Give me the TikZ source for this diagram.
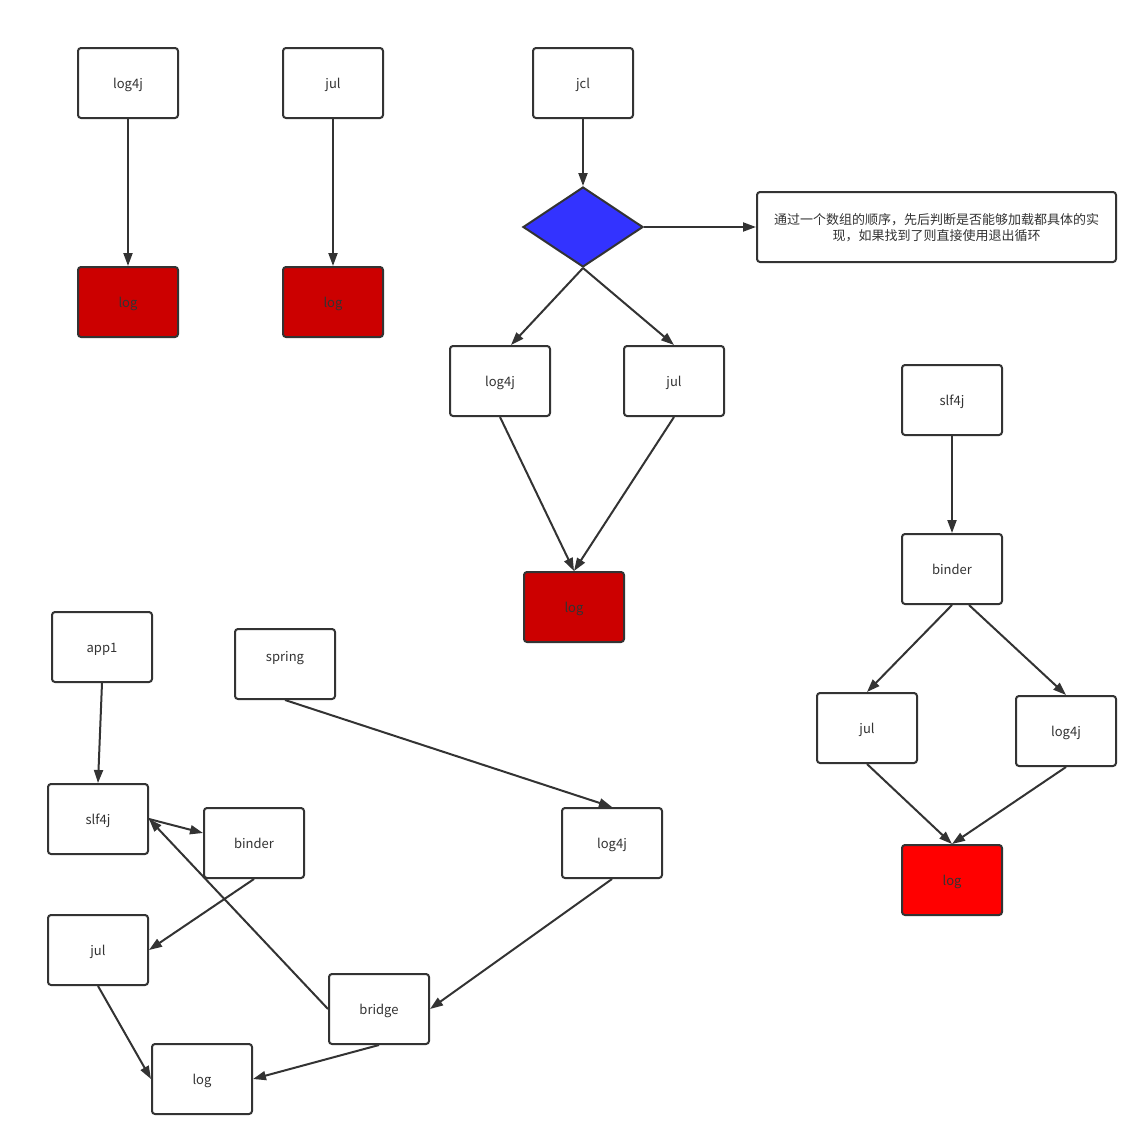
\documentclass[tikz,border=0pt]{standalone}
\usepackage{fontspec}
\setmainfont{Noto Sans CJK SC}
\usepackage{tikz}
\usetikzlibrary{shapes.geometric}
\usetikzlibrary{arrows.meta}
\definecolor{edge}{HTML}{333333}
\definecolor{darkred}{HTML}{CC0000}
\definecolor{brightred}{HTML}{FF0000}
\definecolor{choice}{HTML}{3333FF}

\begin{document}
\begin{tikzpicture}[x=1pt, y=-1pt,
  box/.style={draw=edge, line width=2pt, rounded corners=3pt, fill=white, text=edge,
    minimum width=100pt, minimum height=70pt, inner sep=0pt,
    text height=13pt, text depth=3pt,
    font=\fontsize{13}{16}\selectfont},
  logbox/.style={box, fill=darkred},
  flow/.style={draw=edge, line width=2pt, -{Triangle[length=13pt, width=9pt]}}]
\useasboundingbox (0,0) rectangle (1148,1146);
% jdk logging, one implementation each
\node[box] (log4ja) at (128,83) {log4j};
\node[logbox] (loga) at (128,302) {log};
\node[box] (jula) at (333,83) {jul};
\node[logbox] (logb) at (333,302) {log};
\draw[flow] (log4ja.south) -- (loga.north);
\draw[flow] (jula.south) -- (logb.north);
% jcl
\node[box] (jcl) at (583,83) {jcl};
\node[diamond, draw=edge, line width=2pt, fill=choice, minimum width=120pt, minimum height=80pt,
  inner sep=0pt, aspect=1.5] (pick) at (583,227) {};
\node[box, minimum width=359pt, align=center, text height=, text depth=] (note) at (936.5,227)
  {\rule{0pt}{13pt}通过一个数组的顺序，先后判断是否能够加载都具体的实\\现，如果找到了则直接使用退出循环};
\node[box] (log4jc) at (500,381) {log4j};
\node[box] (julc) at (674,381) {jul};
\node[logbox] (logc) at (574,607) {log};
\draw[flow] (jcl.south) -- (pick.north);
\draw[flow] (pick.east) -- (note.west);
\draw[flow] (pick.south) -- ([xshift=11pt]log4jc.north);
\draw[flow] (pick.south) -- (julc.north);
\draw[flow] (log4jc.south) -- (logc.north);
\draw[flow] (julc.south) -- (logc.north);
% slf4j
\node[box] (slf4jr) at (952,400) {slf4j};
\node[box] (binderr) at (952,569) {binder};
\node[box] (julr) at (867,728) {jul};
\node[box] (log4jr) at (1066,731) {log4j};
\node[box, fill=brightred] (logr) at (952,880) {log};
\draw[flow] (slf4jr.south) -- (binderr.north);
\draw[flow] (binderr.south) -- (julr.north);
\draw[flow] ([xshift=17pt]binderr.south) -- (log4jr.north);
\draw[flow] (julr.south) -- (logr.north);
\draw[flow] (log4jr.south) -- (logr.north);
% bridge
\node[box] (app) at (102,647) {app1};
\node[box, label={[yshift=6pt, text=edge, font=\fontsize{13}{16}\selectfont]center:spring}] (spring) at (285,664) {};
\node[box] (slf4jl) at (98,819) {slf4j};
\node[box] (binderl) at (254,843) {binder};
\node[box] (log4jl) at (612,843) {log4j};
\node[box] (jull) at (98,950) {jul};
\node[box] (bridge) at (379,1009) {bridge};
\node[box] (logl) at (202,1079) {log};
\draw[flow] (app.south) -- (slf4jl.north);
\draw[flow] (slf4jl.east) -- ([yshift=10pt]binderl.west);
\draw[flow] (bridge.west) -- (slf4jl.east);
\draw[flow] (binderl.south) -- (jull.east);
\draw[flow] (spring.south) -- (log4jl.north);
\draw[flow] (log4jl.south) -- (bridge.east);
\draw[flow] (jull.south) -- (logl.west);
\draw[flow] (bridge.south) -- (logl.east);
\end{tikzpicture}
\end{document}
